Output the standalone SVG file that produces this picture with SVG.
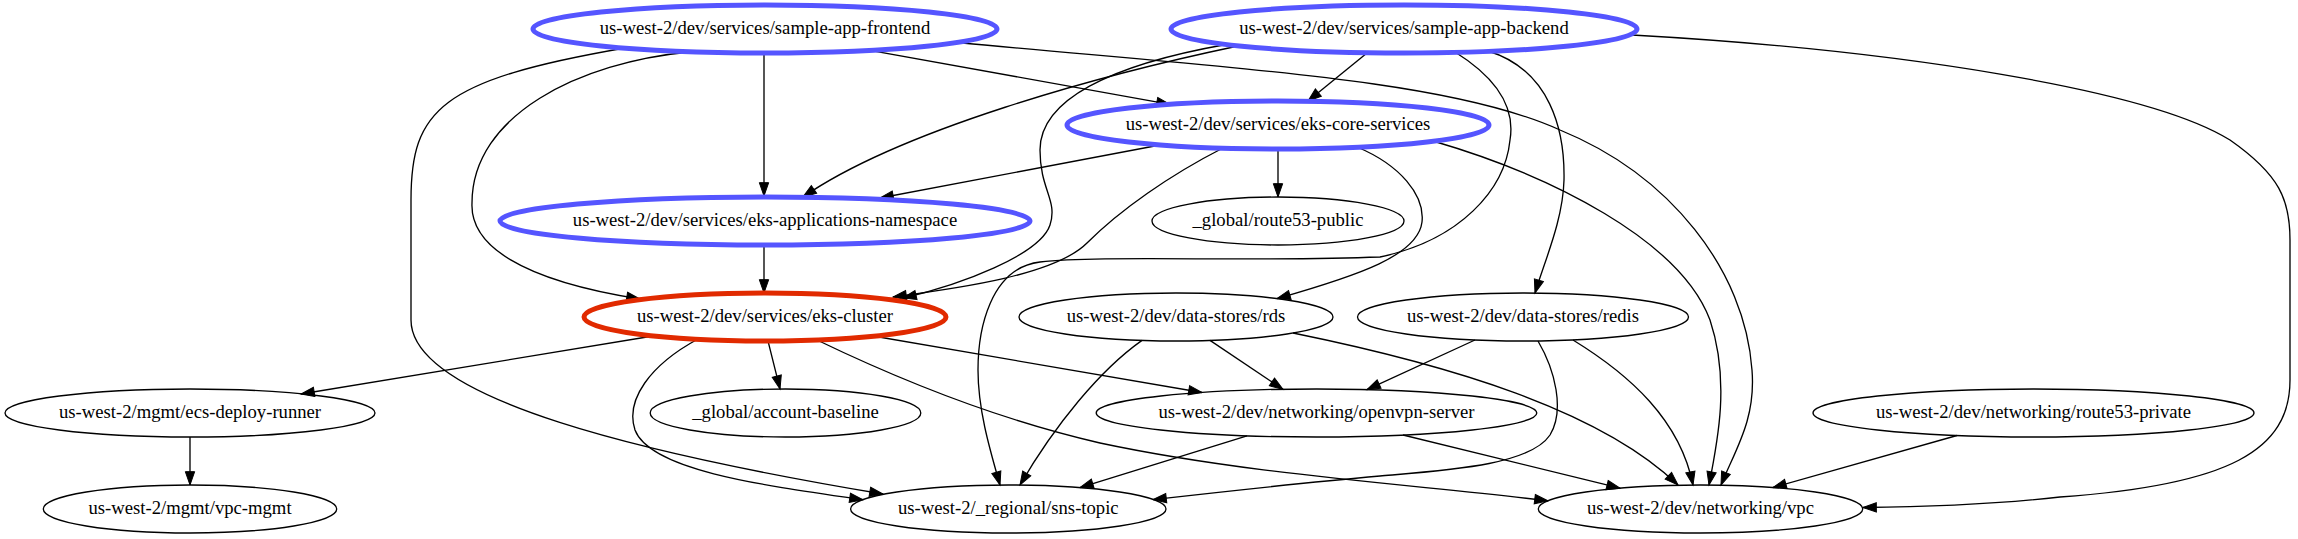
<svg xmlns="http://www.w3.org/2000/svg" width="2298" height="539" viewBox="0 0 2298 539">
<style>
.n ellipse{fill:none;stroke:#000;stroke-width:1.33}
.n.b ellipse{stroke:#5555ff;stroke-width:5}
.n.r ellipse{stroke:#e12a00;stroke-width:5}
.n text{font-family:"Liberation Serif","Times New Roman",serif;font-size:18.67px;text-anchor:middle;fill:#000}
#edges path{fill:none;stroke:#000;stroke-width:1.33;marker-end:url(#arr)}
</style>
<defs>
<marker id="arr" markerUnits="userSpaceOnUse" viewBox="0 0 13.33 9.34" markerWidth="13.33" markerHeight="9.34" refX="13.33" refY="4.67" orient="auto" overflow="visible">
<path d="M0,0 L13.33,4.67 L0,9.34 z" fill="#000" stroke="#000" stroke-width="1"/>
</marker>
</defs>
<rect width="2298" height="539" fill="#fff"/>
<g id="edges">
<path d="M764,53 L764,196"/>
<path d="M764,245 L764,293"/>
<path d="M870,50.4 L1170,104.4"/>
<path d="M957,42.5 C1250,70 1450,80 1560,130 C1670,175 1745,270 1752,370 C1756,420 1735,450 1721,485"/>
<path d="M690,52 C580,62 472,115 472,203 C470,245 520,280 640,299"/>
<path d="M625,48 C440,80 411,110 411,200 L411,320 C411,400 650,455 883,494"/>
<path d="M1367,53 L1308,101"/>
<path d="M1238,46 C1100,75 900,130 803,197"/>
<path d="M1226,44.5 C1110,65 1040,100 1040,150 C1040,190 1058,200 1050,225 C1040,255 960,285 903,298"/>
<path d="M1455,52 C1500,80 1515,110 1510,140 C1505,190 1460,240 1380,257 C1250,262 1100,255 1040,262 C990,268 978,330 978,370 C978,410 990,450 1000,485"/>
<path d="M1488,51 C1550,70 1565,130 1564,180 C1563,220 1545,260 1535,293"/>
<path d="M1632,35 C1900,50 2150,90 2230,140 C2280,175 2290,200 2290,240 L2290,380 C2290,450 2230,485 2060,497 C1990,505 1920,507 1863,507.5"/>
<path d="M1160,145 L880,198"/>
<path d="M1278,149 L1278,197"/>
<path d="M1223,148 C1170,175 1120,210 1087,243 C1055,275 960,288 893,297"/>
<path d="M1357,147 C1400,165 1425,195 1422,222 C1418,255 1360,275 1277,298.6"/>
<path d="M1433,141 C1550,175 1680,240 1710,320 C1730,380 1718,440 1709,485"/>
<path d="M653,336 L301,394"/>
<path d="M768,341 L780,389"/>
<path d="M698,339 C650,365 625,400 635,430 C650,470 760,485 863,499.7"/>
<path d="M873,336 L1202,392.5"/>
<path d="M817,340 C900,380 1000,420 1100,443 C1250,475 1420,485 1548,500.8"/>
<path d="M1210,340.4 L1283,389.3"/>
<path d="M1142,340.4 C1100,370 1055,425 1020,485"/>
<path d="M1293,333 C1450,365 1600,410 1678,485"/>
<path d="M1475,340 L1367,389.6"/>
<path d="M1538,341 C1555,370 1565,410 1550,435 C1530,465 1450,470 1380,476 C1300,483 1220,492 1153,499.6"/>
<path d="M1573,340 C1630,375 1680,420 1693,485"/>
<path d="M190,437 L190,485"/>
<path d="M1247,435.8 L1080,487.6"/>
<path d="M1403,435 L1620,488.2"/>
<path d="M1957,435.5 L1773,487.5"/>
</g>
<g id="node-frontend" class="n b"><ellipse cx="765" cy="29" rx="232" ry="24"/><text x="765" y="34.3">us-west-2/dev/services/sample-app-frontend</text></g>
<g id="node-backend" class="n b"><ellipse cx="1404" cy="29" rx="233" ry="24"/><text x="1404" y="34.3">us-west-2/dev/services/sample-app-backend</text></g>
<g id="node-core" class="n b"><ellipse cx="1278" cy="125" rx="211" ry="24"/><text x="1278" y="130.3">us-west-2/dev/services/eks-core-services</text></g>
<g id="node-apps-ns" class="n b"><ellipse cx="765" cy="221" rx="265" ry="24"/><text x="765" y="226.3">us-west-2/dev/services/eks-applications-namespace</text></g>
<g id="node-route53-public" class="n"><ellipse cx="1278" cy="221" rx="126" ry="24"/><text x="1278" y="226.3">_global/route53-public</text></g>
<g id="node-eks-cluster" class="n r"><ellipse cx="765" cy="317" rx="181" ry="24"/><text x="765" y="322.3">us-west-2/dev/services/eks-cluster</text></g>
<g id="node-rds" class="n"><ellipse cx="1176" cy="317" rx="157" ry="24"/><text x="1176" y="322.3">us-west-2/dev/data-stores/rds</text></g>
<g id="node-redis" class="n"><ellipse cx="1523" cy="317" rx="165.5" ry="24"/><text x="1523" y="322.3">us-west-2/dev/data-stores/redis</text></g>
<g id="node-ecs-deploy-runner" class="n"><ellipse cx="190" cy="413" rx="185" ry="24"/><text x="190" y="418.3">us-west-2/mgmt/ecs-deploy-runner</text></g>
<g id="node-account-baseline" class="n"><ellipse cx="785.5" cy="413" rx="135.3" ry="24"/><text x="785.5" y="418.3">_global/account-baseline</text></g>
<g id="node-openvpn" class="n"><ellipse cx="1316.5" cy="413" rx="220.3" ry="24"/><text x="1316.5" y="418.3">us-west-2/dev/networking/openvpn-server</text></g>
<g id="node-route53-private" class="n"><ellipse cx="2033.5" cy="413" rx="220.5" ry="24"/><text x="2033.5" y="418.3">us-west-2/dev/networking/route53-private</text></g>
<g id="node-vpc-mgmt" class="n"><ellipse cx="190" cy="509" rx="146.7" ry="24"/><text x="190" y="514.3">us-west-2/mgmt/vpc-mgmt</text></g>
<g id="node-sns-topic" class="n"><ellipse cx="1008.3" cy="509" rx="157.7" ry="24"/><text x="1008.3" y="514.3">us-west-2/_regional/sns-topic</text></g>
<g id="node-vpc" class="n"><ellipse cx="1700.5" cy="509" rx="162.2" ry="24"/><text x="1700.5" y="514.3">us-west-2/dev/networking/vpc</text></g>
</svg>
